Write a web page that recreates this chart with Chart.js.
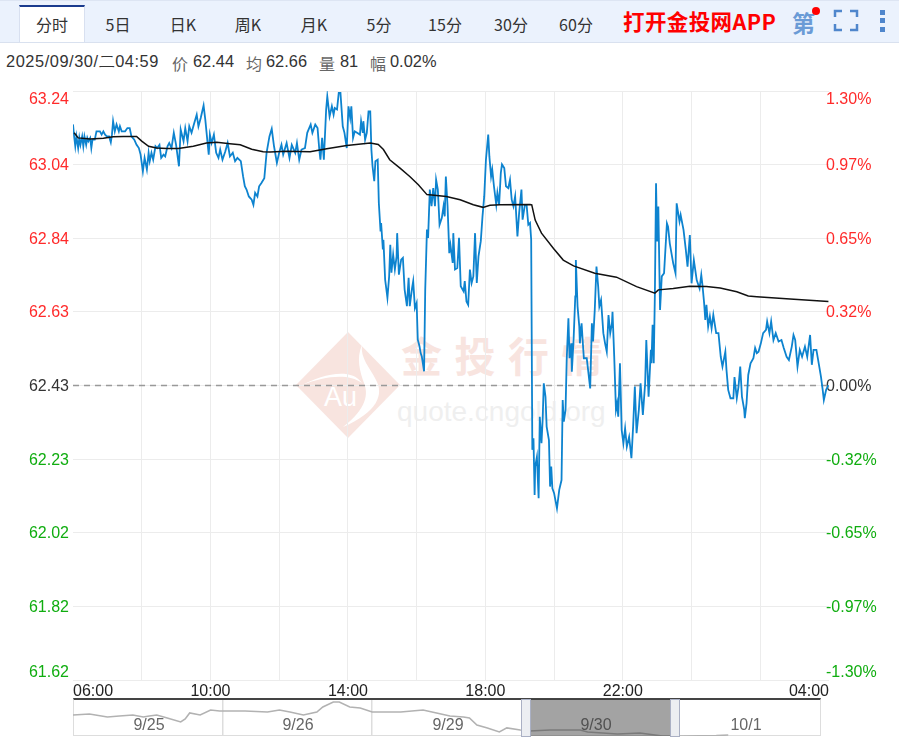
<!DOCTYPE html>
<html lang="zh"><head><meta charset="utf-8"><title>分时</title>
<script src="https://cdn.jsdelivr.net/npm/chart.js@4"></script>
<style>
html,body{margin:0;padding:0;background:#fff;width:899px;height:738px;overflow:hidden;font-family:"Liberation Sans",Arial,sans-serif}
.abs{position:absolute;white-space:nowrap}
#bar{left:0;top:0;width:899px;height:41px;background:#ebf2fd;border-top:1px solid #dde5f3;border-bottom:1px solid #d9e1ef;box-sizing:content-box}
#active{left:19px;top:5px;width:64px;height:35px;background:#fff;border-top:2px solid #1a3b8e;border-left:1px solid #d8e0f0;border-right:1px solid #d8e0f0}
.tab{top:12px;height:24px;line-height:24px;font:16px "Noto Sans CJK SC",sans-serif;color:#333;transform:translateX(-50%)}
.info{top:51px;line-height:20px;font-size:16.4px;color:#333}
.infok{top:51px;line-height:20px;font:16px "Noto Sans CJK SC",sans-serif;color:#666}
canvas{position:absolute}
.day{top:715px;line-height:20px;font-size:16px;color:#666;transform:translateX(-50%)}
</style></head><body>
<div class="abs" id="bar"></div>
<div class="abs" id="active"></div>
<div id="tabs"></div>
<div class="abs" style="left:623px;top:6px;font:bold 21.5px/30px 'Noto Sans CJK SC',sans-serif;color:#f00;letter-spacing:.4px">打开金投网APP</div>
<div class="abs" style="left:792px;top:6px;font:bold 23px/32px 'Noto Sans CJK SC',sans-serif;color:#6a9bd6">第</div>
<div class="abs" style="left:812px;top:7px;width:8px;height:8px;border-radius:50%;background:#f00"></div>
<svg class="abs" style="left:832px;top:6px" width="60" height="30" fill="none" stroke="#4f86cc" stroke-width="2.5">
<path d="M3 11V5H10M18 5H25V11M25 18V24H18M10 24H3V18"/>
<g fill="#4f86cc" stroke="none"><rect x="48" y="4" width="5" height="5"/><rect x="48" y="12" width="5" height="5"/><rect x="48" y="21" width="5" height="5"/></g></svg>
<div id="infoRow"></div>
<svg class="abs" style="left:290px;top:328px" width="120" height="115">
<path d="M58 4L110 57L58 110L6 57Z" fill="#f8e4df"/>
<path d="M72 17C70 30 80 40 86 52C94 66 88 84 53 99C72 84 80 70 74 55C70 44 66 30 72 17Z" fill="#fff"/>
<path d="M12 57C30 48 60 38 72 55C58 45 35 48 12 57Z" fill="#fff"/>
</svg>
<div class="abs" style="left:324px;top:383px;font-size:27px;color:#fff;line-height:28px">Au</div>
<div class="abs" style="left:401px;top:329px;font:bold 41px/50px 'Noto Sans CJK SC',sans-serif;color:#f8e4df;letter-spacing:12.5px">金投行情</div>
<div class="abs" style="left:397px;top:395px;font-size:28px;line-height:34px;color:#efefef">quote.cngold.org</div>
<canvas id="main" width="899" height="700" style="left:0;top:0;width:899px;height:700px"></canvas>
<div class="abs" style="left:73px;top:698px;width:748px;height:38px;border-bottom:1px solid #ddd;border-left:1px solid #ddd;border-right:1px solid #ddd;box-sizing:border-box;border-top:2px solid #444"></div>
<canvas id="nav" width="748" height="36" style="left:73px;top:700px;width:748px;height:36px"></canvas>
<div id="navDays"></div>
<div class="abs" style="left:530px;top:699px;width:141px;height:37px;background:rgba(60,60,60,.47)"></div>
<div class="abs" style="left:521px;top:699px;width:8px;height:36px;background:#eceef2;border:1px solid #aab0c4"></div>
<div class="abs" style="left:670px;top:699px;width:8px;height:36px;background:#eceef2;border:1px solid #aab0c4"></div>
<script>
const tabLabels=["分时","5日","日K","周K","月K","5分","15分","30分","60分"];
const tabCenters=[52,118,183,248,314,379,445,511,576];
const infoTexts=["2025/09/30/二04:59","价","62.44","均","62.66","量","81","幅","0.02%"];
const infoLefts=[6,172,193,246,266,319,340,370,390];

const minutes=[0,2,4,6,9,11,13,16,18,20,23,25,27,30,32,34,38,41,47,50,53,56,59,63,66,68,70,73,76,80,82,85,91,95,99,102,107,111,115,118,122,125,129,132,134,137,140,144,147,151,154,158,161,165,168,172,176,180,185,188,193,196,200,203,207,211,216,219,223,228,231,233,237,239,242,246,250,254,257,261,266,270,274,279,283,287,293,297,300,303,307,312,315,318,322,325,329,334,338,343,347,351,356,360,364,367,373,378,382,388,391,395,399,405,409,415,418,423,427,430,432,435,438,442,444,448,452,455,457,461,464,467,471,474,478,481,484,486,489,492,496,501,503,506,507,510,513,516,519,521,523,526,528,532,534,537,538,541,542,545,548,549,552,554,556,559,562,565,566,569,573,576,579,583,586,588,592,594,597,600,602,605,607,609,613,615,618,620,623,626,629,632,634,637,640,644,647,649,651,654,657,659,663,664,667,671,674,677,682,684,687,690,693,696,699,702,705,708,712,715,718,721,725,727,730,732,735,739,741,744,747,749,753,756,760,763,766,769,772,776,779,783,785,789,792,795,798,800,802,804,806,807,810,813,815,818,820,822,825,827,831,833,835,837,840,845,849,853,855,857,860,862,865,867,870,871,874,877,878,881,884,885,888,890,892,897,900,903,906,908,911,914,917,919,922,926,929,932,935,938,941,942,945,948,950,952,955,958,961,964,967,971,975,978,981,984,988,991,995,999,1001,1005,1009,1010,1012,1014,1016,1018,1020,1022,1025,1028,1032,1037,1039,1042,1048,1052,1054,1059,1061,1066,1070,1073,1077,1080,1084,1089,1094,1097,1099,1102,1104,1106,1109,1112,1115,1118,1123,1127,1131,1134,1139,1141,1144,1148,1153,1155,1159,1162,1165,1168,1172,1173,1176,1179,1183,1188,1191,1194,1197,1201,1205,1210,1212,1216,1219,1223,1227,1232,1237,1241,1246,1250,1255,1258,1261,1265,1269,1273,1278,1282,1287,1290,1293,1298,1303,1306,1309,1311,1315,1319];
const prices=[63.148,63.115,63.088,63.115,63.083,63.111,63.092,63.115,63.088,63.115,63.092,63.111,63.102,63.111,63.083,63.106,63.106,63.129,63.129,63.12,63.129,63.12,63.115,63.115,63.099,63.12,63.157,63.129,63.148,63.129,63.143,63.129,63.129,63.138,63.138,63.115,63.106,63.092,63.083,63.065,63.019,63.056,63.024,63.07,63.047,63.07,63.051,63.088,63.083,63.092,63.056,63.065,63.06,63.088,63.097,63.083,63.125,63.092,63.033,63.134,63.102,63.138,63.102,63.143,63.125,63.148,63.175,63.143,63.166,63.2,63.161,63.129,63.065,63.12,63.097,63.12,63.07,63.056,63.079,63.051,63.074,63.097,63.06,63.07,63.047,63.056,63.047,63.005,62.978,62.969,62.95,62.941,62.927,62.96,62.95,62.978,62.987,63.0,63.07,63.115,63.136,63.088,63.042,63.07,63.092,63.065,63.097,63.056,63.092,63.07,63.097,63.051,63.079,63.083,63.125,63.148,63.125,63.148,63.138,63.079,63.051,63.111,63.051,63.189,63.225,63.17,63.198,63.175,63.193,63.189,63.235,63.235,63.143,63.125,63.083,63.198,63.166,63.198,63.111,63.129,63.125,63.12,63.157,63.125,63.157,63.106,63.125,63.184,63.184,63.079,63.033,62.992,63.047,63.051,62.932,62.854,62.877,62.804,62.831,62.721,62.684,62.671,62.73,62.817,62.74,62.79,62.749,62.785,62.849,62.735,62.776,62.781,62.694,62.648,62.726,62.648,62.698,62.717,62.643,62.657,62.556,62.538,62.519,62.51,62.469,62.694,62.859,62.836,62.969,62.923,62.973,62.923,62.996,62.969,62.872,62.891,62.923,62.895,63.005,62.923,62.794,62.817,62.767,62.849,62.749,62.753,62.836,62.703,62.689,62.717,62.661,62.652,62.749,62.712,62.73,62.849,62.712,62.785,62.827,62.895,62.95,63.051,63.12,63.06,63.005,63.024,62.978,62.927,62.96,62.927,63.015,63.038,63.028,62.978,62.973,62.996,62.941,62.923,62.95,62.84,62.905,62.969,62.886,62.927,62.927,62.872,62.877,62.831,62.253,62.285,62.129,62.207,62.234,62.12,62.344,62.271,62.335,62.436,62.399,62.317,62.28,62.152,62.207,62.147,62.134,62.092,62.143,62.17,62.39,62.331,62.363,62.5,62.615,62.505,62.546,62.468,62.555,62.675,62.775,62.647,62.592,62.546,62.601,62.551,62.505,62.505,62.464,62.422,62.601,62.551,62.638,62.757,62.702,62.647,62.665,62.574,62.546,62.523,62.624,62.574,62.601,62.633,62.509,62.363,62.381,62.344,62.491,62.308,62.271,62.312,62.262,62.289,62.23,62.317,62.427,62.299,62.363,62.436,62.349,62.436,62.555,62.399,62.528,62.491,62.597,62.491,62.684,62.986,62.826,62.922,62.638,62.73,62.739,62.876,62.867,62.821,62.766,62.739,62.931,62.881,62.899,62.858,62.803,62.757,62.844,62.711,62.775,62.72,62.697,62.734,62.707,62.656,62.61,62.652,62.592,62.62,62.587,62.624,62.574,62.574,62.509,62.482,62.523,62.473,62.418,62.395,62.395,62.453,62.395,62.427,62.482,62.399,62.363,62.34,62.381,62.459,62.491,62.505,62.533,62.519,62.523,62.546,62.574,62.583,62.606,62.574,62.606,62.555,62.574,62.551,62.555,62.533,62.509,62.5,62.537,62.569,62.555,62.482,62.528,62.509,62.537,62.509,62.569,62.487,62.528,62.528,62.482,62.454,62.418,62.39,62.418,62.431];

const avgMinutes=[2,9,30,53,70,88,111,120,132,146,164,184,210,233,251,274,292,312,332,344,373,414,443,478,519,533,542,553,571,588,603,618,652,676,699,716,728,746,798,801,807,818,839,856,874,911,949,984,1016,1022,1048,1077,1106,1130,1159,1179,1194,1252,1319];
const avgPrices=[63.125,63.111,63.108,63.11,63.114,63.115,63.115,63.102,63.088,63.083,63.082,63.082,63.088,63.097,63.099,63.095,63.092,63.08,63.073,63.072,63.074,63.073,63.081,63.09,63.097,63.093,63.079,63.051,63.028,63.005,62.982,62.955,62.95,62.941,62.927,62.92,62.926,62.927,62.928,62.927,62.885,62.849,62.807,62.775,62.759,62.739,62.728,62.702,62.684,62.693,62.697,62.703,62.702,62.698,62.688,62.676,62.674,62.668,62.661];

const prevClose=62.43;
const sessionEdges=[0,1320];
const priceTicks=[63.24,63.0375,62.835,62.6325,62.43,62.2275,62.025,61.8225,61.62];
const priceLabels=["63.24","63.04","62.84","62.63","62.43","62.23","62.02","61.82","61.62"];
const pctTicks=[1.3,0.975,0.65,0.325,0,-0.325,-0.65,-0.975,-1.3];
const pctLabels=["1.30%","0.97%","0.65%","0.32%","0.00%","-0.32%","-0.65%","-0.97%","-1.30%"];
const timeTicks=[0,120,240,360,480,600,720,840,960,1080,1200,1320];
const timeLabels=["06:00","","10:00","","14:00","","18:00","","22:00","","","04:00"];

const navX=[0,.11,.23,.31,.40,.47,.51,.56,.63,.72,.75,.78,.85,.92,.98,1.15,1.30,1.38,1.45,1.54,1.63,1.67,1.74,1.78,1.85,1.92,2.0,2.19,2.34,2.43,2.52,2.61,2.65,2.70,2.77,2.85,2.90,2.99,3.05,3.19,3.39,3.44,3.64,3.79,3.94,4.08,4.30,4.38];
const navPrices=[64.42,64.53,64.2,64.31,64.42,64.2,64.31,64.42,64.09,63.65,63.98,64.64,64.42,64.97,64.86,64.86,64.75,64.97,64.75,64.42,64.75,65.3,65.85,65.85,65.3,65.19,64.75,64.75,64.97,64.64,64.31,64.2,64.09,63.32,63.0,62.55,63.0,62.77,62.66,62.77,62.77,62.55,62.33,62.44,62.11,62.11,62.16,62.22];
const navDayTicks=[0,1,2,3,4,5];
const navDayLabels=["9/25","9/26","9/29","9/30","10/1"];
const navDayCenters=[149,298,448,596,746];

const tabs=document.getElementById('tabs');
tabLabels.forEach((t,i)=>{const d=document.createElement('div');d.className='abs tab';d.style.left=tabCenters[i]+'px';d.textContent=t;tabs.appendChild(d)});
const row=document.getElementById('infoRow');
infoTexts.forEach((t,i)=>{const d=document.createElement('div');d.className='abs '+(i%2===1?'infok':'info');d.style.left=infoLefts[i]+'px';
  if(i===0){d.style.letterSpacing='.55px'}
  d.textContent=t;row.appendChild(d)});
const nd=document.getElementById('navDays');
navDayLabels.forEach((t,i)=>{const d=document.createElement('div');d.className='abs day';d.style.left=navDayCenters[i]+'px';d.textContent=t;nd.appendChild(d)});

const toXY=(xs,ys)=>xs.map((x,i)=>({x,y:ys[i]}));
const tickFont={family:'"Liberation Sans",Arial,sans-serif',size:16};
const colorFor=v=>v>0?'#ff2a2a':v<0?'#10ad10':'#333';

const labelTweaks={id:'labelTweaks',beforeDraw(c){
  const x=c.scales.x.getLabelItems();
  x.forEach(it=>{
    if(it.label==='06:00')it.options.textAlign='left';
    if(it.label==='04:00')it.options.textAlign='right';
  });
  ['y','yr'].forEach(id=>{
    const scale=c.scales[id];
    const items=scale.getLabelItems();
    if(!items.length||items[0]._moved)return;
    items.forEach(it=>{it._moved=true;
      it.options.translation[1]+=1;
      if(id==='yr'){it.options.textAlign='left';it.options.translation[0]=scale.left-3;}});
    items[0].options.translation[1]+=8;
    items[items.length-1].options.translation[1]-=8;
  });
}};

new Chart(document.getElementById('main'),{
  type:'line',
  data:{datasets:[
    {label:'均价',data:toXY(avgMinutes,avgPrices),borderColor:'#111',borderWidth:1.5,pointRadius:0,order:1,yAxisID:'y',xAxisID:'x'},
    {label:'价格',data:toXY(minutes,prices),borderColor:'#0d83cf',borderWidth:1.8,pointRadius:0,order:2,yAxisID:'y',xAxisID:'x'},
    {label:'昨收',data:toXY(sessionEdges,sessionEdges.map(()=>prevClose)),borderColor:'#999',borderWidth:1.3,borderDash:[6,5],pointRadius:0,order:3,yAxisID:'y',xAxisID:'x'}
  ]},
  plugins:[labelTweaks],
  options:{
    responsive:false,animation:false,devicePixelRatio:1,
    layout:{padding:{top:91,left:0,right:0,bottom:0}},
    plugins:{legend:{display:false},tooltip:{enabled:false},title:{display:false}},
    scales:{
      x:{type:'linear',min:0,max:1320,
        afterBuildTicks:a=>{a.ticks=timeTicks.map(value=>({value}))},
        afterFit:s=>{s.height=20},
        border:{display:false},
        grid:{drawTicks:false,color:c=>(c.tick&&(c.tick.value===0||c.tick.value===1320))?'rgba(0,0,0,0)':'#ececec'},
        ticks:{autoSkip:false,maxRotation:0,padding:2,color:'#222',font:tickFont,callback:v=>timeLabels[timeTicks.indexOf(v)]}},
      y:{type:'linear',position:'left',min:61.62,max:63.24,
        afterBuildTicks:a=>{a.ticks=priceTicks.map(value=>({value}))},
        afterFit:s=>{s.width=73},
        border:{display:false},
        grid:{drawTicks:false,color:'#ececec'},
        ticks:{autoSkip:false,padding:4,font:tickFont,
          color:c=>colorFor(c.tick.value-prevClose),
          callback:v=>priceLabels[priceTicks.indexOf(v)]}},
      yr:{type:'linear',position:'right',min:-1.3,max:1.3,
        afterBuildTicks:a=>{a.ticks=pctTicks.map(value=>({value}))},
        afterFit:s=>{s.width=70},
        border:{display:false},
        grid:{display:false},
        ticks:{autoSkip:false,mirror:true,padding:0,font:tickFont,
          color:c=>colorFor(c.tick.value),
          callback:v=>pctLabels[pctTicks.indexOf(v)]}}
    }
  }
});

new Chart(document.getElementById('nav'),{
  type:'line',
  data:{datasets:[{data:toXY(navX,navPrices),borderColor:'#b2b2b2',borderWidth:1.6,pointRadius:0}]},
  options:{
    responsive:false,animation:false,devicePixelRatio:1,
    layout:{padding:0},
    plugins:{legend:{display:false},tooltip:{enabled:false}},
    scales:{
      x:{type:'linear',min:0,max:5,
        afterBuildTicks:a=>{a.ticks=navDayTicks.map(value=>({value}))},
        border:{display:false},
        grid:{drawTicks:false,lineWidth:1.5,color:c=>(c.tick&&(c.tick.value===0||c.tick.value===5))?'rgba(0,0,0,0)':'#ddd'},
        ticks:{display:false}},
      y:{type:'linear',min:62.11,max:66.07,display:false}
    }
  }
});
</script>
</body></html>
